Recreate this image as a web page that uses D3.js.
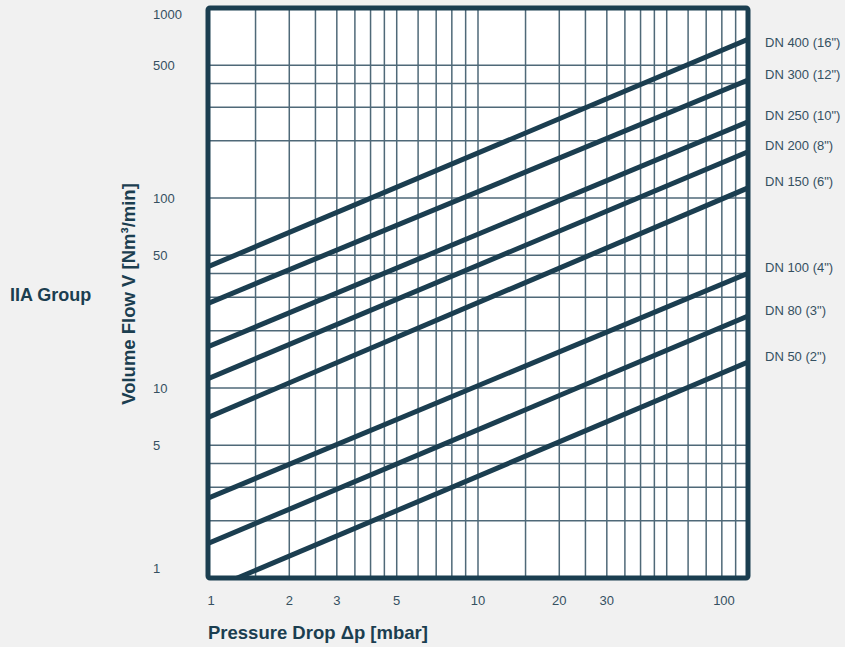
<!DOCTYPE html>
<html>
<head>
<meta charset="utf-8">
<script src="https://cdn.jsdelivr.net/npm/d3@7"></script>
<style>
  body { margin: 0; background: #f1f1f1; }
  text { font-family: "Liberation Sans", Arial, sans-serif; }
</style>
</head>
<body>
<div id="chart"></div>
<script>
// nominal sizes, flow read at 1 mbar and at 100 mbar
const sizes = ['DN 50 (2")', 'DN 80 (3")', 'DN 100 (4")', 'DN 150 (6")', 'DN 200 (8")', 'DN 250 (10")', 'DN 300 (12")', 'DN 400 (16")'];
const flowAt1 = [0.86, 1.52, 2.63, 7.0, 11.2, 16.5, 27.9, 43.5];
const flowAt100 = [13.7, 23.9, 40.2, 113, 175, 252, 418, 684];
const dropPoints = [1, 100];

const xTickLabels = [1, 2, 3, 5, 10, 20, 30, 100];
const yTickLabels = [1, 5, 10, 50, 100, 500, 1000];
const xGrid = [1.5, 2, 2.5, 3, 3.5, 4, 4.5, 5, 6, 7, 8, 9, 10, 15, 20, 25, 30, 35, 40, 45, 50, 60, 70, 80, 90];
const yGrid = [2, 3, 4, 5, 10, 20, 30, 40, 50, 100, 200, 300, 400, 500];

const W = 845, H = 647;
const margin = { top: 8, right: 97, bottom: 69, left: 208 };
const dark = '#1b3e50';
const textCol = '#355061';

const svg = d3.select('#chart').append('svg')
  .attr('width', W)
  .attr('height', H);

const x = d3.scaleLog().domain([1, 100]).range([margin.left, W - margin.right]);
const y = d3.scaleLog().domain([1, 1000]).range([H - margin.bottom, margin.top]);

svg.append('defs').append('clipPath')
  .attr('id', 'plot-clip')
  .append('rect')
  .attr('x', x(1)).attr('y', y(1000))
  .attr('width', x(100) - x(1)).attr('height', y(1) - y(1000));

// plot background
svg.append('rect')
  .attr('x', x(1)).attr('y', y(1000))
  .attr('width', x(100) - x(1)).attr('height', y(1) - y(1000))
  .attr('fill', '#fff');

// grid
const grid = svg.append('g').attr('stroke', '#4f6978').attr('stroke-width', 1.5);
grid.selectAll('.vg').data(xGrid).enter().append('line')
  .attr('x1', d => x(d)).attr('x2', d => x(d))
  .attr('y1', y(1000)).attr('y2', y(1));
grid.selectAll('.hg').data(yGrid).enter().append('line')
  .attr('y1', d => y(d)).attr('y2', d => y(d))
  .attr('x1', x(1)).attr('x2', x(100));

// flow lines
const line = d3.line().x(d => x(d[0])).y(d => y(d[1]));
const curves = sizes.map((name, i) => ({
  name,
  pts: dropPoints.map((p, j) => [p, j === 0 ? flowAt1[i] : flowAt100[i]])
}));

svg.append('g').attr('clip-path', 'url(#plot-clip)')
  .selectAll('path').data(curves).enter().append('path')
  .attr('d', d => line(d.pts))
  .attr('fill', 'none')
  .attr('stroke', dark)
  .attr('stroke-width', 5);

// frame
svg.append('rect')
  .attr('x', x(1)).attr('y', y(1000))
  .attr('width', x(100) - x(1)).attr('height', y(1) - y(1000))
  .attr('fill', 'none')
  .attr('stroke', dark)
  .attr('stroke-width', 5)
  .attr('rx', 2);

// series labels
svg.selectAll('.dn').data(curves).enter().append('text')
  .attr('x', x(100) + 17)
  .attr('y', d => Math.max(y(d.pts[1][1]) - 6, 42))
  .attr('dy', '0.35em')
  .attr('font-size', 13)
  .attr('fill', textCol)
  .text(d => d.name);

// y tick labels
svg.selectAll('.yt').data(yTickLabels).enter().append('text')
  .attr('x', 153)
  .attr('y', d => y(d))
  .attr('dy', d => d === 1000 ? '0.85em' : d === 1 ? '-0.4em' : '0.35em')
  .attr('font-size', 13)
  .attr('fill', textCol)
  .text(d => d);

// x tick labels
svg.selectAll('.xt').data(xTickLabels).enter().append('text')
  .attr('x', d => d === 100 ? x(d) - 24 : x(d) + (d === 1 ? 3 : 0))
  .attr('y', 605)
  .attr('text-anchor', 'middle')
  .attr('font-size', 13)
  .attr('fill', textCol)
  .text(d => d);

// titles
svg.append('text')
  .attr('x', x(1))
  .attr('y', 639)
  .attr('font-size', 18.5)
  .attr('font-weight', 'bold')
  .attr('fill', dark)
  .text('Pressure Drop Δp [mbar]');

svg.append('text')
  .attr('transform', 'translate(134.5,294) rotate(-90)')
  .attr('text-anchor', 'middle')
  .attr('font-size', 18.5)
  .attr('font-weight', 'bold')
  .attr('fill', dark)
  .text('Volume Flow V [Nm³/min]');

svg.append('text')
  .attr('x', 10)
  .attr('y', 301)
  .attr('font-size', 18)
  .attr('font-weight', 'bold')
  .attr('fill', dark)
  .text('IIA Group');
</script>
</body>
</html>
